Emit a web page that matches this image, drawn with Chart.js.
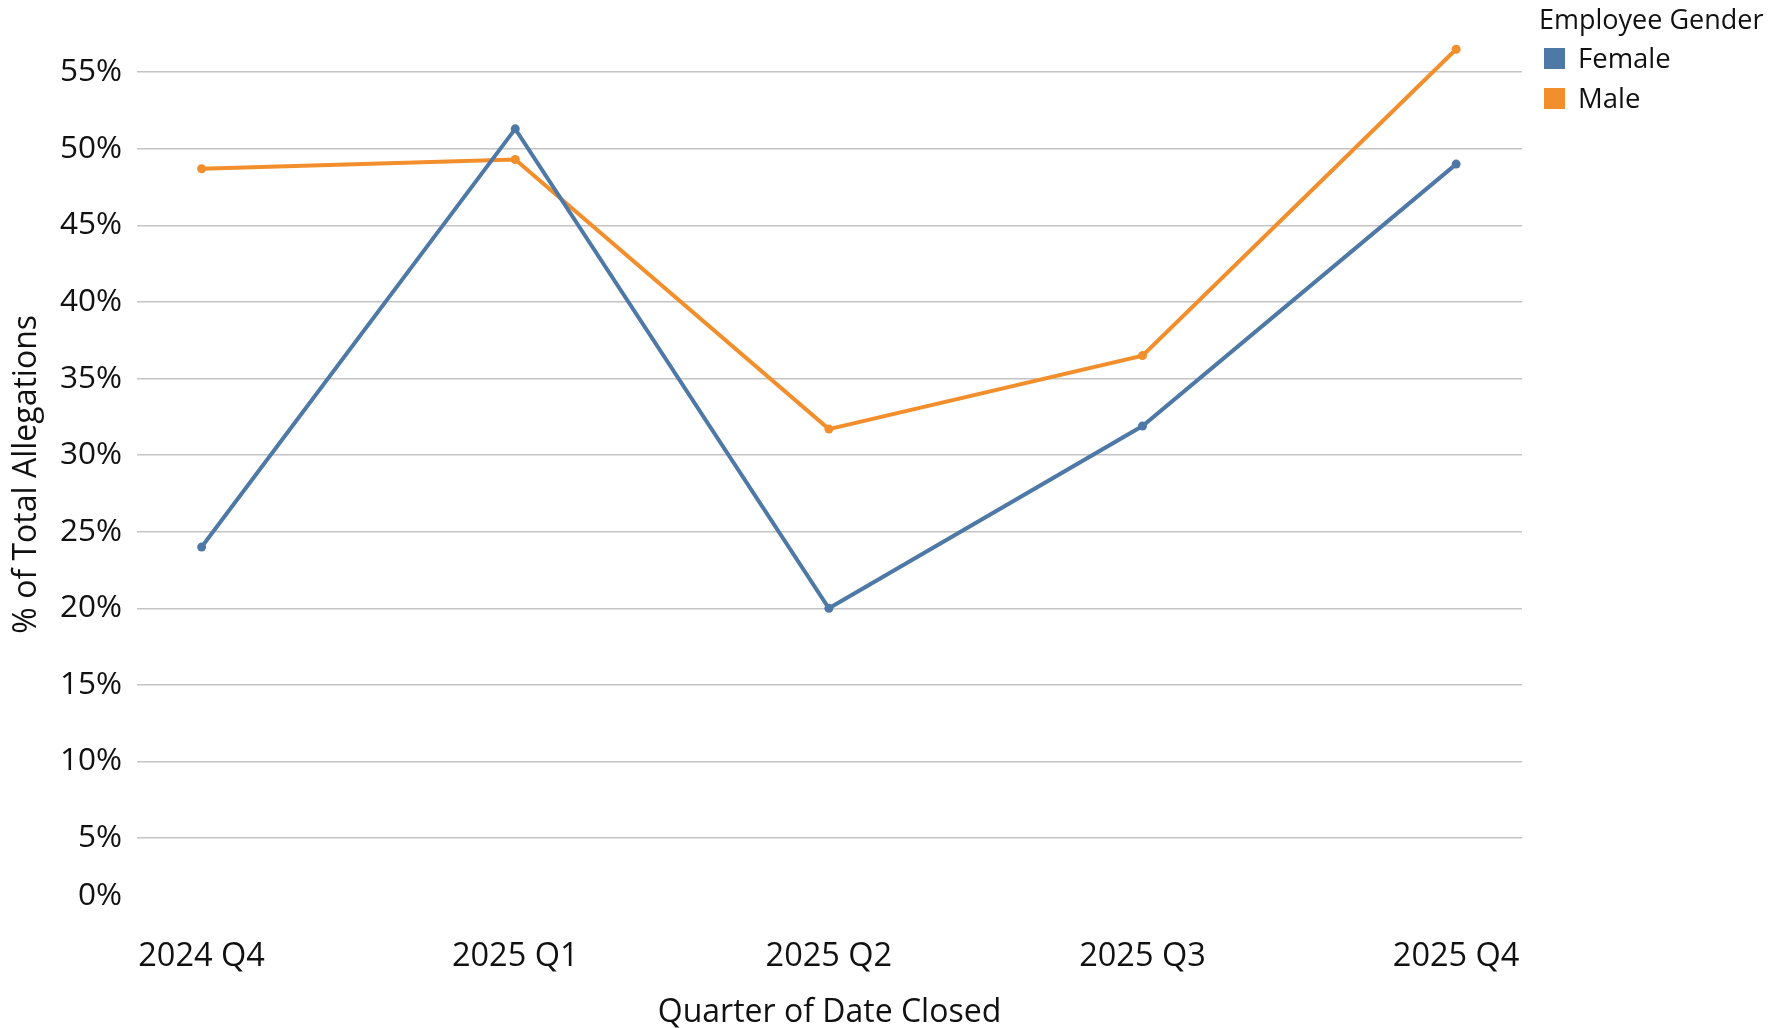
<!DOCTYPE html>
<html>
<head>
<meta charset="utf-8">
<script src="https://cdn.jsdelivr.net/npm/chart.js@4.4.1/dist/chart.umd.min.js"></script>
<style>
  html, body { margin: 0; padding: 0; background: #ffffff; }
  #wrap { position: relative; width: 1785px; height: 1028px; overflow: hidden; }
  #legend { position: absolute; left: 1539px; top: 0px; font-family: "Open Sans", sans-serif; color: #111111; }
  #legend .title { font-size: 27px; line-height: 38px; white-space: nowrap; }
  #legend .item { display: flex; align-items: center; height: 40px; margin-left: 5px; }
  #legend .box { width: 21px; height: 21px; margin-right: 13px; }
  #legend .lbl { font-size: 27.5px; line-height: 40px; }
</style>
</head>
<body>
<div id="wrap">
  <canvas id="c" width="1785" height="1028"></canvas>
  <div id="legend"></div>
</div>
<script>
const categories = ["2024 Q4", "2025 Q1", "2025 Q2", "2025 Q3", "2025 Q4"];
const seriesNames = ["Female", "Male"];
const femaleValues = [24.0, 51.3, 20.0, 31.9, 49.0];
const maleValues = [48.7, 49.3, 31.7, 36.5, 56.5];
const seriesColors = ["#4e79a7", "#f28e2b"];
const legendTitle = "Employee Gender";
const xTitle = "Quarter of Date Closed";
const yTitle = "% of Total Allegations";

const seriesValues = [femaleValues, maleValues];
const FONT = '"Open Sans", sans-serif';
const TXT = '#111111';

const datasets = seriesNames.map((name, s) => ({
  label: name,
  data: seriesValues[s].map((v, i) => ({ x: i, y: v })),
  borderColor: seriesColors[s],
  backgroundColor: seriesColors[s],
  borderWidth: 4,
  pointRadius: 4.5,
  pointHoverRadius: 4.5,
  pointBorderWidth: 0,
  tension: 0,
  order: s
}));

new Chart(document.getElementById('c'), {
  type: 'line',
  data: { datasets },
  options: {
    responsive: false,
    animation: false,
    devicePixelRatio: 1,
    layout: { padding: { left: 0, right: 263, top: 29, bottom: 0 } },
    plugins: { legend: { display: false }, tooltip: { enabled: false } },
    scales: {
      x: {
        type: 'linear',
        min: -0.206,
        max: 4.21,
        grid: { display: false, drawTicks: false },
        border: { display: false },
        afterFit: (scale) => { scale.height = 113.3; },
        afterBuildTicks: (scale) => {
          scale.ticks = categories.map((c, i) => ({ value: i }));
        },
        ticks: {
          autoSkip: false,
          maxRotation: 0,
          padding: 23,
          color: TXT,
          font: { family: FONT, size: 32.5 },
          callback: (v) => categories[v] ?? ''
        },
        title: {
          display: true,
          text: xTitle,
          color: TXT,
          font: { family: FONT, size: 32 },
          padding: { top: 0, bottom: -4 }
        }
      },
      y: {
        min: 0,
        max: 57.5,
        grid: {
          drawTicks: false,
          lineWidth: 1.5,
          color: (ctx) => (ctx.tick && ctx.tick.value === 0) ? 'rgba(0,0,0,0)' : '#c4c4c4'
        },
        border: { display: false },
        afterFit: (scale) => { scale.width = 137; },
        ticks: {
          stepSize: 5,
          includeBounds: false,
          padding: 15,
          color: TXT,
          font: { family: FONT, size: 31.5 },
          // the lowest label sits a little above the axis floor in the reference
          callback: (v) => v === 0 ? ['0%', ''] : v + '%'
        },
        title: {
          display: true,
          text: yTitle,
          color: TXT,
          font: { family: FONT, size: 32 },
          padding: { top: 8, bottom: 0 }
        }
      }
    }
  }
});

// HTML legend built from series arrays
const lg = document.getElementById('legend');
const t = document.createElement('div');
t.className = 'title';
t.textContent = legendTitle;
lg.appendChild(t);
seriesNames.forEach((name, s) => {
  const it = document.createElement('div');
  it.className = 'item';
  const b = document.createElement('div');
  b.className = 'box';
  b.style.background = seriesColors[s];
  const l = document.createElement('div');
  l.className = 'lbl';
  l.textContent = name;
  it.appendChild(b); it.appendChild(l);
  lg.appendChild(it);
});
</script>
</body>
</html>
